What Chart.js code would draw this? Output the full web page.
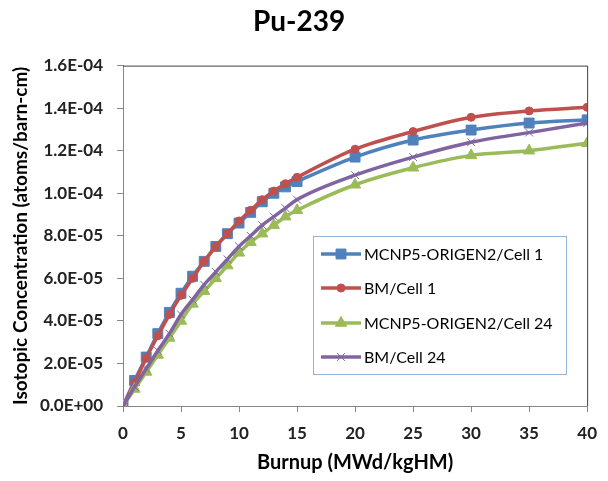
<!DOCTYPE html>
<html>
<head>
<meta charset="utf-8">
<script src="https://cdn.jsdelivr.net/npm/chart.js@4/dist/chart.umd.min.js"></script>
<style>
  body { margin: 0; background: white; }
  #wrap { width: 608px; height: 481px; }
</style>
</head>
<body>
<div id="wrap"><canvas id="chart" width="608" height="481"></canvas></div>
<script>
// burnup steps (MWd/kgHM)
const burnup = [0, 1, 2, 3, 4, 5, 6, 7, 8, 9, 10, 11, 12, 13, 14, 15, 20, 25, 30, 35, 40];

// Pu-239 concentration (atoms/barn-cm)
const mcnpCell1 = [0, 1.2e-5, 2.3e-5, 3.4e-5, 4.4e-5, 5.3e-5, 6.1e-5, 6.8e-5, 7.5e-5, 8.1e-5, 8.6e-5,
  9.1e-5, 9.6e-5, 1.0e-4, 1.03e-4, 1.055e-4, 1.17e-4, 1.25e-4, 1.297e-4, 1.33e-4, 1.345e-4];
const bmCell1 = [0, 1.1e-5, 2.25e-5, 3.3e-5, 4.3e-5, 5.2e-5, 6.0e-5, 6.8e-5, 7.5e-5, 8.1e-5, 8.7e-5,
  9.2e-5, 9.7e-5, 1.01e-4, 1.045e-4, 1.075e-4, 1.207e-4, 1.29e-4, 1.357e-4, 1.387e-4, 1.404e-4];
const mcnpCell24 = [0, 8e-6, 1.6e-5, 2.4e-5, 3.2e-5, 4.0e-5, 4.8e-5, 5.4e-5, 6.0e-5, 6.6e-5, 7.2e-5,
  7.7e-5, 8.1e-5, 8.5e-5, 8.9e-5, 9.2e-5, 1.04e-4, 1.12e-4, 1.178e-4, 1.2e-4, 1.235e-4];
const bmCell24 = [0, 9e-6, 1.75e-5, 2.6e-5, 3.4e-5, 4.3e-5, 5.0e-5, 5.7e-5, 6.3e-5, 6.9e-5, 7.5e-5,
  8.0e-5, 8.5e-5, 8.9e-5, 9.3e-5, 9.7e-5, 1.085e-4, 1.17e-4, 1.24e-4, 1.285e-4, 1.33e-4];

const seriesNames = ['MCNP5-ORIGEN2/Cell 1', 'BM/Cell 1', 'MCNP5-ORIGEN2/Cell 24', 'BM/Cell 24'];

const FONT = 'Lato, "Open Sans", sans-serif';

function sciLabel(v) {
  if (Math.abs(v) < 1e-12) return '0.0E+00';
  const parts = v.toExponential(1).split('e');
  const e = parseInt(parts[1], 10);
  return parts[0] + 'E' + (e < 0 ? '-' : '+') + String(Math.abs(e)).padStart(2, '0');
}

function toPoints(ys) {
  return burnup.map((x, i) => ({ x: x, y: ys[i] }));
}

function series(label, ys, color, pointStyle, radius, order) {
  return {
    label: label,
    data: toPoints(ys),
    borderColor: color,
    backgroundColor: color,
    borderWidth: 3.5,
    pointStyle: pointStyle,
    pointRadius: radius,
    pointBorderWidth: 1,
    pointBorderColor: color,
    pointBackgroundColor: color,
    cubicInterpolationMode: 'monotone',
    order: order
  };
}

// plot frame (top/right border) + legend inside the plot
const framePlugin = {
  id: 'frame',
  afterDraw(chart) {
    const { ctx, chartArea: a } = chart;
    ctx.save();
    ctx.strokeStyle = '#404040';
    ctx.lineWidth = 1;
    ctx.beginPath();
    ctx.moveTo(a.left, a.top + 0.5);
    ctx.lineTo(a.right + 0.5, a.top + 0.5);
    ctx.lineTo(a.right + 0.5, a.bottom);
    ctx.stroke();

    // legend box
    const box = { x: 313, y: 236, w: 253, h: 138 };
    ctx.fillStyle = 'white';
    ctx.fillRect(box.x, box.y, box.w, box.h);
    ctx.strokeStyle = '#95B3D7';
    ctx.strokeRect(box.x + 0.5, box.y + 0.5, box.w, box.h);
    const rows = [254, 288, 323, 357];
    ctx.font = '16px ' + FONT;
    ctx.textBaseline = 'middle';
    ctx.textAlign = 'left';
    chart.data.datasets.forEach((ds, i) => {
      const y = rows[i];
      ctx.strokeStyle = ds.borderColor;
      ctx.lineWidth = ds.borderWidth;
      ctx.beginPath();
      ctx.moveTo(321, y);
      ctx.lineTo(361, y);
      ctx.stroke();
      ctx.fillStyle = ds.pointBackgroundColor;
      ctx.strokeStyle = ds.pointBorderColor;
      ctx.lineWidth = ds.pointBorderWidth;
      Chart.helpers.drawPoint(ctx, {
        pointStyle: ds.pointStyle,
        radius: ds.pointRadius,
        borderWidth: ds.pointBorderWidth,
        rotation: 0
      }, 341, y);
      ctx.fillStyle = '#000';
      ctx.fillText(ds.label, 364, y + 1);
    });
    ctx.restore();
  }
};

new Chart(document.getElementById('chart'), {
  type: 'line',
  data: {
    datasets: [
      series(seriesNames[0], mcnpCell1, '#4F81BD', 'rect', 7, 3),
      series(seriesNames[1], bmCell1, '#C0504D', 'circle', 4, 2),
      series(seriesNames[2], mcnpCell24, '#9BBB59', 'triangle', 6.5, 1),
      series(seriesNames[3], bmCell24, '#8064A2', 'crossRot', 5.5, 0)
    ]
  },
  options: {
    responsive: false,
    animation: false,
    layout: { padding: { left: 0, right: 10, top: 0, bottom: 0 } },
    plugins: {
      legend: { display: false },
      tooltip: { enabled: false },
      title: {
        display: true,
        text: 'Pu-239',
        color: '#000',
        font: { family: FONT, size: 28, weight: 'bold' },
        padding: { top: 5, bottom: 27 }
      }
    },
    scales: {
      x: {
        type: 'linear',
        min: 0,
        max: 40,
        ticks: {
          stepSize: 5,
          color: '#222',
          padding: 11,
          maxRotation: 0,
          font: { family: FONT, size: 17, weight: 'bold' }
        },
        grid: { display: true, drawOnChartArea: false, tickLength: 6, color: '#868686' },
        border: { color: '#868686', width: 1 },
        title: {
          display: true,
          text: 'Burnup (MWd/kgHM)',
          color: '#000',
          font: { family: FONT, size: 20, weight: 'bold' },
          padding: { top: 0, bottom: 6 }
        },
        afterFit(scale) { scale.height = 75; }
      },
      y: {
        min: 0,
        max: 1.6e-4,
        ticks: {
          stepSize: 2e-5,
          color: '#222',
          padding: 14,
          font: { family: FONT, size: 17, weight: 'bold' },
          callback: (v) => sciLabel(v)
        },
        grid: { display: true, drawOnChartArea: false, tickLength: 6, color: '#868686' },
        border: { color: '#868686', width: 1 },
        title: {
          display: true,
          text: 'Isotopic Concentration (atoms/barn-cm)',
          color: '#000',
          font: { family: FONT, size: 19, weight: 'bold' },
          padding: { top: 9, bottom: 0 }
        },
        afterFit(scale) { scale.width = 123; }
      }
    }
  },
  plugins: [framePlugin]
});
</script>
</body>
</html>
